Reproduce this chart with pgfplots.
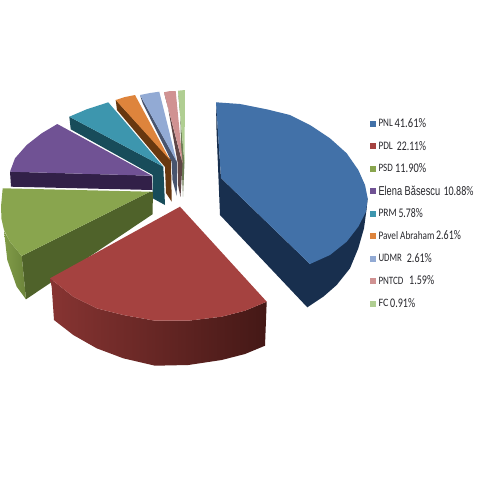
\documentclass[border=0pt]{standalone}
\usepackage{graphicx}
\usepackage{pgfplots}
\pgfplotsset{compat=1.18}
\usepackage{fontspec}
\setmainfont{Carlito}
\newfontfamily\arialf{Liberation Sans}
\definecolor{pnlTop}{RGB}{66,113,168}
\definecolor{pnlWall}{RGB}{24,47,78}
\definecolor{pdlTop}{RGB}{165,66,64}
\definecolor{pdlWallA}{RGB}{135,52,50}
\definecolor{pdlWallM}{RGB}{108,38,38}
\definecolor{pdlWallB}{RGB}{68,24,22}
\definecolor{psdTop}{RGB}{137,165,78}
\definecolor{psdWall}{RGB}{79,98,42}
\definecolor{psdWallA}{RGB}{128,156,72}
\definecolor{psdWallB}{RGB}{108,132,58}
\definecolor{eleTop}{RGB}{112,82,148}
\definecolor{eleWall}{RGB}{50,32,72}
\definecolor{prmTop}{RGB}{61,150,174}
\definecolor{prmWall}{RGB}{24,76,90}
\definecolor{pavTop}{RGB}{222,132,60}
\definecolor{pavWall}{RGB}{104,56,16}
\definecolor{udmTop}{RGB}{146,170,212}
\definecolor{udmWall}{RGB}{72,84,110}
\definecolor{pntTop}{RGB}{208,146,146}
\definecolor{pntWall}{RGB}{96,70,70}
\definecolor{fcTop}{RGB}{176,206,146}
\definecolor{fcWall}{RGB}{108,124,86}
\definecolor{txt}{RGB}{40,40,45}
% one piece of legend text, squeezed to the size it has in the reference
\newcommand{\piece}[5]{\node[anchor=west,inner sep=0pt,text=txt] at (axis cs:#1,#2) {\resizebox{#3pt}{#4pt}{#5}};}
% legend key
\newcommand{\key}[2]{\addplot[only marks,mark=square*,mark size=2.6pt,mark options={draw=#1,fill=#1,line width=.3pt}] coordinates {(372.7,#2)};}
\begin{document}
\begin{tikzpicture}
\begin{axis}[
width=480pt,height=480pt,scale only axis,
xmin=0,xmax=480,ymin=0,ymax=480,y dir=reverse,
axis line style={draw=none},ticks=none,
every axis plot/.append style={draw=none,mark=none},
]
\addplot[fill=white] coordinates {(0,0)(480,0)(480,480)(0,480)};

% FC
\addplot[fill=fcWall] coordinates {(178,91)(180,105)(181.5,163)(183,196.7)(184.5,163)};
\addplot[fill=fcTop] coordinates {(178,90.7)(185,90)(184.5,163.3)};
% PNTCD
\addplot[fill=pntWall] coordinates {(164,92.3)(166.7,100)(177.5,161.7)(178,185)(180.5,197)(182.5,163.3)};
\addplot[fill=pntTop] coordinates {(164,92.3)(170,91)(175.7,91)(182.7,163.3)};
% UDMR
\addplot[fill=udmWall] coordinates {(140,95)(142.7,103.3)(171.7,161.7)(172.5,180)(176.7,196)(177,161.7)};
\addplot[fill=udmTop] coordinates {(140,95)(150,93)(159.3,91.7)(176.7,161.7)};
% Pavel Abraham
\addplot[fill=pavWall] coordinates {(115.7,100)(117,110)(165,167)(166,193)(171.7,201.7)(171,160)};
\addplot[fill=pavTop] coordinates {(115.7,100)(125,97)(135,95)(170,160)};
% PRM
\addplot[fill=prmWall] coordinates {(69.3,116.7)(70.7,129.3)(152.7,175)(152.7,198.3)(165,205)(163.3,166.7)};
\addplot[fill=prmTop] coordinates {(69.3,116.7)(86.7,109.3)(108.3,102.3)(163.3,166.7)};
% Elena Basescu
\addplot[fill=eleWall] coordinates {(10,171.7)(11,186.7)(152.3,190)(151.7,175.7)};
\addplot[fill=eleTop] coordinates {(10,171.7)(15,158.3)(26.7,145)(41.7,133.3)(57.3,124)(151.7,175.7)};
% PSD
\addplot[fill=psdWall] coordinates {(150,191.7)(21.7,256)(26,299.3)(152.5,214.3)(153,192)};
\addplot[left color=psdWallA,right color=psdWallB] coordinates {(4,231)(7.3,260)(16.7,286.7)(26,299.3)(21.7,256)(10,241.7)};
\addplot[fill=psdTop] coordinates {(2.7,188.3)(1,206.7)(1.5,219)(4,230)(10,241.7)(21.7,256)(150,191.7)};
% PDL
\addplot[left color=pdlWallA,middle color=pdlWallM,right color=pdlWallB] coordinates {(50,278.3)(51.7,287)(54,320)(73.3,335)(96.7,348.3)(123.3,358.3)(155,365.7)(188.3,365)(221.7,360)(245,354)(265,345.7)(266.7,301.7)(245,310.7)(221.7,316.7)(188.3,320.7)(155,320.7)(123.3,315)(96.7,308.3)(73.3,296.7)};
\addplot[fill=pdlTop] coordinates {(180,206.7)(50,278.3)(73.3,296.7)(96.7,308.3)(123.3,315)(155,320.7)(188.3,320.7)(221.7,316.7)(245,310.7)(266.7,301.7)};
% PNL
\addplot[fill=pnlWall] coordinates {(216,102)(216.5,130)(220,215)(307.3,307.3)(323.3,296.7)(336.7,285)(350,268.3)(358.3,248.3)(364,228.3)(366.7,208.3)(367.7,198)(310,264)(221,178)};
\addplot[fill=pnlTop] coordinates {(216,102.3)(240,104)(266.7,109.3)(290,115)(310,125)(330,138.3)(346.7,153.3)(358.3,170)(365,185)(367.7,198.3)(366,211.7)(358.3,226.7)(346.7,241.7)(330,255)(310,264)(221,178)};

% legend keys
\key{pnlTop}{123.3}
\key{pdlTop}{146}
\key{psdTop}{168.3}
\key{eleTop}{191}
\key{prmTop}{213.3}
\key{pavTop}{235.7}
\key{udmTop}{258.3}
\key{pntTop}{280.7}
\key{fcTop}{303.3}

% legend text
\piece{378.3}{123.3}{14.3}{7.3}{PNL}
\piece{394.3}{123}{31.7}{9}{41.61\%}
\piece{378.3}{146}{14.3}{7.3}{PDL}
\piece{396.7}{145.7}{29.3}{9}{22.11\%}
\piece{378.3}{168.3}{14.3}{7.3}{PSD}
\piece{395}{168}{31}{9}{11.90\%}
\piece{378.3}{191}{61.7}{9.5}{\arialf Elena Băsescu}
\piece{443.3}{191}{30}{9}{10.88\%}
\piece{378.3}{213.3}{18.3}{7.3}{PRM}
\piece{398.3}{213}{24.3}{9}{5.78\%}
\piece{378.3}{235.7}{56}{8}{Pavel Abraham}
\piece{436}{235.5}{24.7}{9}{2.61\%}
\piece{378.3}{258.3}{23.3}{7.3}{UDMR}
\piece{406.7}{258}{25}{9}{2.61\%}
\piece{378.3}{280.7}{25}{7.3}{PNTCD}
\piece{409}{280.5}{25}{9}{1.59\%}
\piece{378.3}{303.3}{10}{7.3}{FC}
\piece{390}{303}{25}{9}{0.91\%}
\end{axis}
\end{tikzpicture}
\end{document}
